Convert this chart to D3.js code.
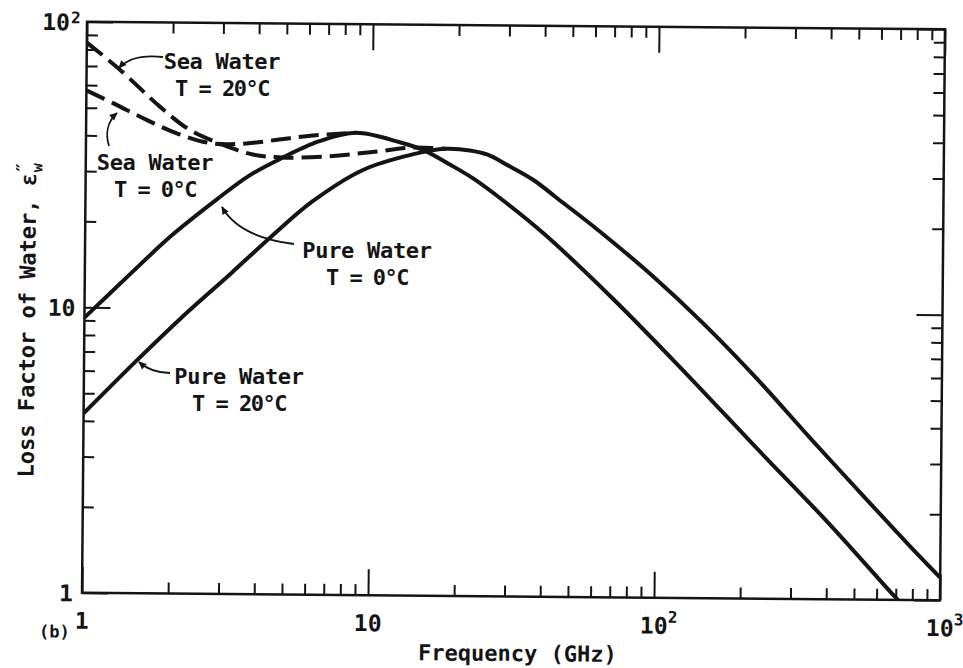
<!DOCTYPE html>
<html>
<head>
<meta charset="utf-8">
<title>Loss factor of water</title>
<script src="https://cdn.jsdelivr.net/npm/d3@7"></script>
<style>
  body { margin: 0; background: #fff; }
  #chart text { font-family: "DejaVu Sans Mono", monospace; font-weight: bold; fill: #141414; }
</style>
</head>
<body>
<div id="chart"></div>
<script>
// values: frequency in GHz, loss factor eps''
const pureColdFreq = [1, 1.44, 2.0, 2.88, 3.72, 4.74, 6.55, 8.8, 12.6, 15.2, 18.9, 22.7, 28.2, 40.4, 71.8, 127.7, 227, 403, 686, 740];
const pureColdLoss = [9.2, 13.1, 17.9, 24.1, 29.2, 33.4, 38.8, 41.6, 38.6, 36.3, 32.3, 29.0, 24.8, 18.6, 10.9, 6.1, 3.35, 1.86, 1.04, 0.96];

const pureWarmFreq = [1, 1.52, 2.17, 3.25, 4.5, 6.2, 9.28, 13.88, 18.1, 22, 25.4, 30, 36.8, 44.6, 62.2, 95.8, 147, 227, 349, 537, 830, 1000];
const pureWarmLoss = [4.25, 6.5, 9.2, 13.3, 18.0, 23.8, 30.8, 35.1, 36.8, 36.4, 35.2, 32.3, 28.8, 24.9, 19.3, 13.5, 9.1, 5.85, 3.65, 2.3, 1.45, 1.2];

const seaColdFreq = [1, 1.24, 1.62, 2.12, 2.77, 3.63, 4.74, 6.2, 8.8];
const seaColdLoss = [57.5, 52.0, 45.6, 40.6, 37.8, 37.9, 39.2, 40.6, 41.6];

const seaWarmFreq = [1, 1.308, 1.805, 2.297, 3.0, 3.83, 5.0, 7.11, 10.05, 13.88, 18.1];
const seaWarmLoss = [84.5, 68.1, 50.8, 42.2, 37.5, 34.7, 33.9, 34.4, 35.7, 37.1, 36.8];

const xTickValues = [1, 10, 100, 1000];
const xTickLabels = [["1", ""], ["10", ""], ["10", "2"], ["10", "3"]];
const yTickValues = [1, 10, 100];
const yTickLabels = [["1", ""], ["10", ""], ["10", "2"]];

const width = 963;
const height = 668;
const box = { left: 84.5, right: 942.5, top: 25.5, bottom: 596.5 };
const tilt = 0.5; // the scanned page sits a little clockwise
const ink = "#141414";
const minor = 11;
const major = 26;

const svg = d3.select("#chart")
    .append("svg")
    .attr("width", width)
    .attr("height", height);

svg.append("rect").attr("width", width).attr("height", height).attr("fill", "#fff");

const x = d3.scaleLog().domain([1, 1000]).range([box.left, box.right]);
const y = d3.scaleLog().domain([1, 100]).range([box.bottom, box.top]);

const cx = (box.left + box.right) / 2;
const cy = (box.top + box.bottom) / 2;

const plot = svg.append("g")
    .attr("transform", `rotate(${tilt}, ${cx}, ${cy})`);

plot.append("clipPath")
    .attr("id", "clip")
    .append("rect")
        .attr("x", box.left)
        .attr("y", box.top)
        .attr("width", box.right - box.left)
        .attr("height", box.bottom - box.top);

// curves
const line = d3.line()
    .x(d => x(d[0]))
    .y(d => y(d[1]))
    .curve(d3.curveCatmullRom.alpha(0.5));

const series = [
    { freq: seaWarmFreq, loss: seaWarmLoss, dash: "20 8" },
    { freq: seaColdFreq, loss: seaColdLoss, dash: "20 8" },
    { freq: pureColdFreq, loss: pureColdLoss, dash: null },
    { freq: pureWarmFreq, loss: pureWarmLoss, dash: null }
];

plot.append("g")
    .attr("clip-path", "url(#clip)")
    .selectAll("path")
    .data(series)
    .join("path")
        .attr("d", s => line(s.freq.map((f, i) => [f, s.loss[i]])))
        .attr("fill", "none")
        .attr("stroke", ink)
        .attr("stroke-width", 4)
        .attr("stroke-linejoin", "round")
        .attr("stroke-dasharray", s => s.dash);

// ticks on all four sides, pointing inward
const isDecade = d => Math.abs(Math.log10(d) - Math.round(Math.log10(d))) < 1e-6;

const axes = [
    [d3.axisBottom(x), `translate(0,${box.bottom})`, "y2", -1],
    [d3.axisTop(x), `translate(0,${box.top})`, "y2", 1],
    [d3.axisLeft(y), `translate(${box.left},0)`, "x2", 1],
    [d3.axisRight(y), `translate(${box.right},0)`, "x2", -1]
];

axes.forEach(([axis, pos, attr, dir]) => {
    plot.append("g")
        .attr("transform", pos)
        .call(axis.tickValues(axis.scale().ticks()).tickFormat(""))
        .call(g => g.select(".domain").remove())
        .call(g => g.selectAll(".tick line")
            .attr(attr, d => dir * (isDecade(d) ? major : minor))
            .attr("stroke", ink)
            .attr("stroke-width", 2));
});

plot.append("rect")
    .attr("x", box.left)
    .attr("y", box.top)
    .attr("width", box.right - box.left)
    .attr("height", box.bottom - box.top)
    .attr("fill", "none")
    .attr("stroke", ink)
    .attr("stroke-width", 2.5);

// tick labels
xTickValues.forEach((v, i) => {
    const [base, exp] = xTickLabels[i];
    plot.append("text")
        .attr("x", x(v))
        .attr("y", box.bottom + 36)
        .attr("text-anchor", "middle")
        .attr("font-size", 23)
        .text(base);
    if (exp) {
        plot.append("text")
            .attr("x", x(v) + 14)
            .attr("y", box.bottom + 25)
            .attr("font-size", 16)
            .text(exp);
    }
});

yTickValues.forEach((v, i) => {
    const [base, exp] = yTickLabels[i];
    const right = exp ? box.left - 17 : box.left - 9;
    plot.append("text")
        .attr("x", right)
        .attr("y", y(v))
        .attr("dy", "0.38em")
        .attr("text-anchor", "end")
        .attr("font-size", 23)
        .text(base);
    if (exp) {
        plot.append("text")
            .attr("x", right + 1)
            .attr("y", y(v) + 1.5)
            .attr("font-size", 16)
            .text(exp);
    }
});

// axis titles
plot.append("text")
    .attr("x", cx + 7)
    .attr("y", box.bottom + 64.5)
    .attr("text-anchor", "middle")
    .attr("font-size", 22)
    .text("Frequency (GHz)");

const yTitle = plot.append("text")
    .attr("transform", `translate(35, ${cy + 13}) rotate(-90)`)
    .attr("text-anchor", "middle")
    .attr("font-size", 22);
yTitle.append("tspan").text("Loss Factor of Water, \u03b5");
yTitle.append("tspan").attr("dy", -7).attr("font-size", 18).text("\u2033");
yTitle.append("tspan").attr("dx", -10).attr("dy", 13).attr("font-size", 15).text("w");

plot.append("text")
    .attr("x", box.left - 12)
    .attr("y", box.bottom + 45)
    .attr("text-anchor", "end")
    .attr("font-size", 17)
    .text("(b)");

// curve names with leader arrows (page coordinates)
svg.append("defs")
    .append("marker")
        .attr("id", "arrow")
        .attr("viewBox", "0 0 10 10")
        .attr("refX", 9)
        .attr("refY", 5)
        .attr("markerWidth", 9)
        .attr("markerHeight", 8)
        .attr("markerUnits", "userSpaceOnUse")
        .attr("orient", "auto")
    .append("path")
        .attr("d", "M0,0.5 L10,5 L0,9.5 Z")
        .attr("fill", ink);

const notes = [
    { lines: ["Sea Water", "T = 20\u00b0C"], x: 222, y: 69, leader: "M163,57 C145,55 128,58 119,68" },
    { lines: ["Sea Water", "T = 0\u00b0C"], x: 155, y: 170, leader: "M109,146 C105,133 108,121 117,113" },
    { lines: ["Pure Water", "T = 0\u00b0C"], x: 367, y: 258, leader: "M294,244 C262,240 235,230 222,207" },
    { lines: ["Pure Water", "T = 20\u00b0C"], x: 239, y: 384, leader: "M170,373 C158,373 147,369 139,362" }
];

const note = svg.append("g")
    .selectAll("g")
    .data(notes)
    .join("g");

note.append("path")
    .attr("d", d => d.leader)
    .attr("fill", "none")
    .attr("stroke", ink)
    .attr("stroke-width", 1.8)
    .attr("marker-end", "url(#arrow)");

note.each(function (d) {
    d3.select(this).selectAll("text")
        .data(d.lines)
        .join("text")
            .attr("x", d.x)
            .attr("y", (t, i) => d.y + i * 27)
            .attr("text-anchor", "middle")
            .attr("font-size", 22)
            .attr("letter-spacing", (t, i) => i ? -1.5 : -0.3)
            .text(t => t);
});
</script>
</body>
</html>
